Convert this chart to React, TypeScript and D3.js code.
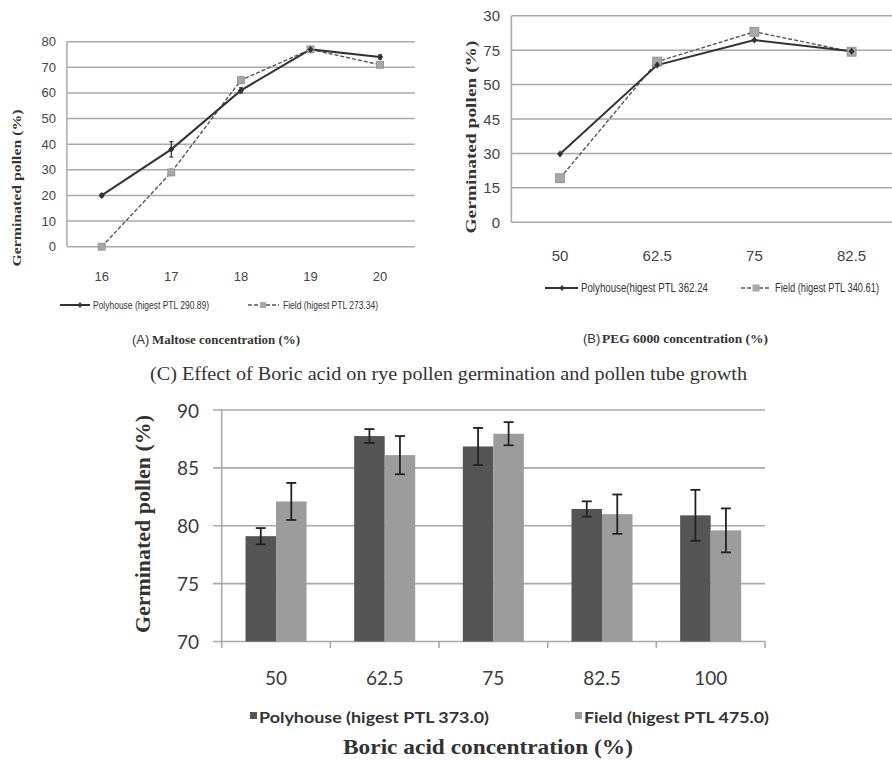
import React from "react";
import * as d3 from "d3";

// (A) maltose
const aCategories = ["16", "17", "18", "19", "20"];
const aPolyhouse = [20, 38, 61, 77, 74];
const aPolyErr = [0.5, 3, 1, 0.5, 0.8];
const aField = [0, 29, 65, 77, 71];
const aFieldErr = [0.5, 1.5, 1.5, 0.5, 0.8];
const aTicks = [0, 10, 20, 30, 40, 50, 60, 70, 80];

// (B) PEG 6000
const bCategories = ["50", "62.5", "75", "82.5"];
const bPolyhouse = [29.8, 68.5, 79.4, 74.5];
const bField = [19.2, 70, 83, 74.3];
const bTicks = [0, 15, 30, 45, 60, 75, 90];
const bTickLabels = ["0", "15", "30", "45", "50", "75", "30"];

// (C) boric acid
const cCategories = ["50", "62.5", "75", "82.5", "100"];
const cPolyhouse = [79.1, 87.75, 86.85, 81.45, 80.9];
const cPolyErr = [0.7, 0.6, 1.6, 0.66, 2.2];
const cField = [82.1, 86.1, 87.95, 81.0, 79.6];
const cFieldErr = [1.6, 1.65, 1.0, 1.7, 1.9];
const cTicks = [70, 75, 80, 85, 90];

const narrow = "'Liberation Sans Narrow', 'Arial Narrow', sans-serif";
const serif = "'Liberation Serif', 'Times New Roman', serif";
const calib = "Lato, 'Open Sans', sans-serif";

const grid = "#a9a9a9";
const dark = "#555555";
const light = "#9c9c9c";

function LineChart(props: {
  cats: string[];
  poly: number[];
  field: number[];
  polyErr?: number[];
  fieldErr?: number[];
  ticks: number[];
  tickLabels?: string[];
  xRange: [number, number];
  yDomain: [number, number];
  yRange: [number, number];
  yLabelX: number;
  xLabelY: number;
  fontSize: number;
  sq: number;
}) {
  const { cats, poly, field, polyErr, fieldErr, ticks, tickLabels, fontSize, sq } = props;
  const x = d3.scaleBand().domain(cats).range(props.xRange);
  const y = d3.scaleLinear().domain(props.yDomain).range(props.yRange);
  const cx = (c: string) => (x(c) as number) + x.bandwidth() / 2;
  const line = d3
    .line<number>()
    .x((_, i) => cx(cats[i]))
    .y((d) => y(d));
  const [x0, x1] = props.xRange;
  return (
    <g>
      {ticks.map((t, i) => (
        <g key={t}>
          <line x1={x0} x2={x1} y1={y(t)} y2={y(t)} stroke={grid} strokeWidth={1.5} />
          <text
            x={props.yLabelX}
            y={y(t)}
            textAnchor="end"
            dominantBaseline="central"
            fontFamily={narrow}
            fontSize={fontSize}
            fill="#444"
          >
            {tickLabels ? tickLabels[i] : t}
          </text>
        </g>
      ))}
      <line x1={x0} x2={x0} y1={props.yRange[1]} y2={props.yRange[0]} stroke={grid} strokeWidth={1.5} />
      {cats.map((c) => (
        <text
          key={c}
          x={cx(c)}
          y={props.xLabelY}
          textAnchor="middle"
          fontFamily={narrow}
          fontSize={fontSize}
          fill="#444"
        >
          {c}
        </text>
      ))}
      <path d={line(field) || ""} fill="none" stroke="#555" strokeWidth={1.4} strokeDasharray="4,2" />
      <path d={line(poly) || ""} fill="none" stroke="#333" strokeWidth={2} />
      {polyErr &&
        poly.map((v, i) => (
          <g key={"pe" + i} stroke="#333" strokeWidth={1.2}>
            <line x1={cx(cats[i])} x2={cx(cats[i])} y1={y(v - polyErr[i])} y2={y(v + polyErr[i])} />
            <line x1={cx(cats[i]) - 2} x2={cx(cats[i]) + 2} y1={y(v + polyErr[i])} y2={y(v + polyErr[i])} />
            <line x1={cx(cats[i]) - 2} x2={cx(cats[i]) + 2} y1={y(v - polyErr[i])} y2={y(v - polyErr[i])} />
          </g>
        ))}
      {fieldErr &&
        field.map((v, i) => (
          <g key={"fe" + i} stroke="#555" strokeWidth={1}>
            <line x1={cx(cats[i])} x2={cx(cats[i])} y1={y(v - fieldErr[i])} y2={y(v + fieldErr[i])} />
          </g>
        ))}
      {field.map((v, i) => (
        <rect
          key={"fm" + i}
          x={cx(cats[i]) - sq / 2}
          y={y(v) - sq / 2}
          width={sq}
          height={sq}
          fill="#a8a8a8"
          stroke="#8c8c8c"
          strokeWidth={0.8}
        />
      ))}
      {poly.map((v, i) => (
        <path
          key={"pm" + i}
          d={`M${cx(cats[i])},${y(v) - 3.5}l3,3.5l-3,3.5l-3,-3.5z`}
          fill="#333"
        />
      ))}
    </g>
  );
}

// legend texts are squeezed horizontally with a scale, like the condensed original
function LineLegend(props: {
  y: number;
  p: [number, number, number];
  f: [number, number, number];
  pText: string;
  fText: string;
  pLen: number;
  fLen: number;
  fontSize: number;
  sq: number;
  squeeze: number;
}) {
  const { y, p, f, fontSize, sq, squeeze } = props;
  return (
    <g fontFamily={narrow} fontSize={fontSize} fill="#333">
      <line x1={p[0]} x2={p[1]} y1={y} y2={y} stroke="#333" strokeWidth={2} />
      <path d={`M${p[2]},${y - 3}l2.5,3l-2.5,3l-2.5,-3z`} fill="#333" />
      <text
        transform={`translate(${p[1] + 3},${y}) scale(${squeeze},1)`}
        dominantBaseline="central"
        textLength={props.pLen / squeeze}
        lengthAdjust="spacingAndGlyphs"
      >
        {props.pText}
      </text>
      <line x1={f[0]} x2={f[1]} y1={y} y2={y} stroke="#555" strokeWidth={1.3} strokeDasharray="4,2" />
      <rect x={f[2] - sq / 2} y={y - sq / 2} width={sq} height={sq} fill="#a8a8a8" />
      <text
        transform={`translate(${f[1] + 4},${y}) scale(${squeeze},1)`}
        dominantBaseline="central"
        textLength={props.fLen / squeeze}
        lengthAdjust="spacingAndGlyphs"
      >
        {props.fText}
      </text>
    </g>
  );
}

function BarChart() {
  const x = d3.scaleBand().domain(cCategories).range([221.7, 765]);
  const inner = d3.scaleBand().domain(["p", "f"]).range([0, x.bandwidth()]).paddingOuter(0.78);
  const y = d3.scaleLinear().domain([70, 90]).range([641.5, 410]);
  const series = [
    { key: "p", vals: cPolyhouse, errs: cPolyErr, color: dark },
    { key: "f", vals: cField, errs: cFieldErr, color: light },
  ];
  const bw = inner.bandwidth();
  return (
    <g>
      {cTicks.map((t) => (
        <g key={t}>
          <line x1={213} x2={765} y1={y(t)} y2={y(t)} stroke={grid} strokeWidth={1.6} />
          <text
            x={199}
            y={y(t)}
            textAnchor="end"
            dominantBaseline="central"
            fontFamily={calib}
            fontSize={19}
            fill="#3a3a3a"
          >
            {t}
          </text>
        </g>
      ))}
      <line x1={221.7} x2={221.7} y1={410} y2={641.5} stroke={grid} strokeWidth={1.6} />
      {[...cCategories.map((c) => x(c) as number), 765].map((bx, i) => (
        <line key={"t" + i} x1={bx} x2={bx} y1={641.5} y2={648} stroke={grid} strokeWidth={1.6} />
      ))}
      {series.map((s) =>
        s.vals.map((v, i) => {
          const bx = (x(cCategories[i]) as number) + (inner(s.key) as number);
          return (
            <rect key={s.key + i} x={bx} y={y(v)} width={bw} height={y(70) - y(v)} fill={s.color} />
          );
        })
      )}
      {series.map((s) =>
        s.vals.map((v, i) => {
          const mx = (x(cCategories[i]) as number) + (inner(s.key) as number) + bw / 2;
          const hi = y(v + s.errs[i]);
          const lo = y(v - s.errs[i]);
          return (
            <g key={"e" + s.key + i} stroke="#222" strokeWidth={1.8}>
              <line x1={mx} x2={mx} y1={hi} y2={lo} />
              <line x1={mx - 5} x2={mx + 5} y1={hi} y2={hi} />
              <line x1={mx - 5} x2={mx + 5} y1={lo} y2={lo} />
            </g>
          );
        })
      )}
      {cCategories.map((c) => (
        <text
          key={c}
          x={(x(c) as number) + x.bandwidth() / 2}
          y={685}
          textAnchor="middle"
          fontFamily={calib}
          fontSize={19}
          fill="#3a3a3a"
        >
          {c}
        </text>
      ))}
      <g fontFamily={calib} fontSize={16} fontWeight="bold" fill="#333">
        <rect x={250} y={712} width={7} height={7} fill={dark} />
        <text x={259} y={716} dominantBaseline="central" textLength={230} lengthAdjust="spacingAndGlyphs">
          Polyhouse (higest PTL 373.0)
        </text>
        <rect x={575} y={712} width={7} height={7} fill={light} />
        <text x={584} y={716} dominantBaseline="central" textLength={185} lengthAdjust="spacingAndGlyphs">
          Field (higest PTL 475.0)
        </text>
      </g>
      <text
        x={343}
        y={754}
        fontFamily={serif}
        fontWeight="bold"
        fontSize={22}
        fill="#333"
        textLength={290}
        lengthAdjust="spacingAndGlyphs"
      >
        Boric acid concentration (%)
      </text>
      <text
        transform="translate(143,524) rotate(-90)"
        textAnchor="middle"
        dominantBaseline="central"
        fontFamily={serif}
        fontWeight="bold"
        fontSize={21}
        fill="#333"
        textLength={218}
        lengthAdjust="spacingAndGlyphs"
      >
        Germinated pollen (%)
      </text>
    </g>
  );
}

export default function App() {
  return (
    <svg
      width={892}
      height={761}
      style={{ position: "absolute", left: 0, top: 0, background: "#fff" }}
    >
      <rect width={892} height={761} fill="#fff" />
      <LineChart
        cats={aCategories}
        poly={aPolyhouse}
        field={aField}
        polyErr={aPolyErr}
        fieldErr={aFieldErr}
        ticks={aTicks}
        xRange={[66.9, 414.9]}
        yDomain={[0, 80]}
        yRange={[246.7, 41.7]}
        yLabelX={56}
        xLabelY={281}
        fontSize={13}
        sq={7}
      />
      <text
        transform="translate(17,188) rotate(-90)"
        textAnchor="middle"
        dominantBaseline="central"
        fontFamily={serif}
        fontWeight="bold"
        fontSize={12}
        fill="#333"
        textLength={157}
        lengthAdjust="spacingAndGlyphs"
      >
        Germinated pollen (%)
      </text>
      <LineLegend
        y={305}
        p={[60, 90, 80]}
        f={[248, 279, 263]}
        pText="Polyhouse (higest PTL 290.89)"
        fText="Field (higest PTL 273.34)"
        pLen={116}
        fLen={95}
        fontSize={11}
        sq={6}
        squeeze={0.8}
      />
      <LineChart
        cats={bCategories}
        poly={bPolyhouse}
        field={bField}
        ticks={bTicks}
        tickLabels={bTickLabels}
        xRange={[511.4, 900.2]}
        yDomain={[0, 90]}
        yRange={[222.3, 15.7]}
        yLabelX={500}
        xLabelY={261}
        fontSize={15}
        sq={9}
      />
      <text
        transform="translate(471,137) rotate(-90)"
        textAnchor="middle"
        dominantBaseline="central"
        fontFamily={serif}
        fontWeight="bold"
        fontSize={15}
        fill="#333"
        textLength={193}
        lengthAdjust="spacingAndGlyphs"
      >
        Germinated pollen (%)
      </text>
      <LineLegend
        y={288}
        p={[545, 578, 562]}
        f={[741, 771, 756]}
        pText="Polyhouse(higest PTL 362.24"
        fText="Field (higest PTL 340.61)"
        pLen={127}
        fLen={104}
        fontSize={12}
        sq={7}
        squeeze={0.78}
      />
      <g fill="#333">
        <text x={132} y={344} fontFamily="'Liberation Sans', Arial, sans-serif" fontSize={13}>
          (A)
        </text>
        <text
          x={152}
          y={344}
          fontFamily={serif}
          fontWeight="bold"
          fontSize={13}
          textLength={148}
          lengthAdjust="spacingAndGlyphs"
        >
          Maltose concentration (%)
        </text>
        <text x={583} y={343} fontFamily="'Liberation Sans', Arial, sans-serif" fontSize={13}>
          (B)
        </text>
        <text
          x={602}
          y={343}
          fontFamily={serif}
          fontWeight="bold"
          fontSize={13}
          textLength={166}
          lengthAdjust="spacingAndGlyphs"
        >
          PEG 6000 concentration (%)
        </text>
        <text
          x={150}
          y={380}
          fontFamily={serif}
          fontSize={18}
          textLength={597}
          lengthAdjust="spacingAndGlyphs"
        >
          (C) Effect of Boric acid on rye pollen germination and pollen tube growth
        </text>
      </g>
      <BarChart />
    </svg>
  );
}
